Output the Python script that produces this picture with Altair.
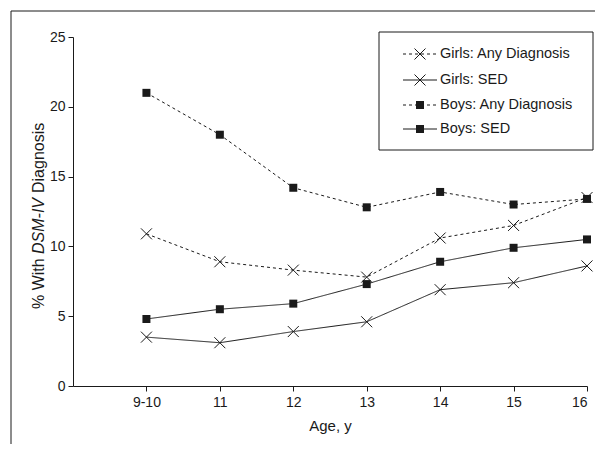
import altair as alt
import pandas as pd

ages = ["9-10", "11", "12", "13", "14", "15", "16"]
series_names = ["Girls: Any Diagnosis", "Girls: SED", "Boys: Any Diagnosis", "Boys: SED"]
girls_any = [10.9, 8.9, 8.3, 7.8, 10.6, 11.5, 13.5]
girls_sed = [3.5, 3.1, 3.9, 4.6, 6.9, 7.4, 8.6]
boys_any = [21.0, 18.0, 14.2, 12.8, 13.9, 13.0, 13.4]
boys_sed = [4.8, 5.5, 5.9, 7.3, 8.9, 9.9, 10.5]

FONT = "Liberation Sans"
INK = "#1a1a1a"
XPATH = "M-1,-1L1,1M-1,1L1,-1"

rows = []
for name, vals in zip(series_names, [girls_any, girls_sed, boys_any, boys_sed]):
    for i, (a, v) in enumerate(zip(ages, vals)):
        rows.append({"series": name, "idx": i + 1, "age": a, "value": v})
df = pd.DataFrame(rows)

label_expr = "[''," + ",".join("'%s'" % a for a in ages) + "][datum.value]"

x_enc = alt.X("idx:Q", scale=alt.Scale(domain=[0, 7], nice=False, zero=False),
              axis=alt.Axis(values=list(range(1, 8)), labelExpr=label_expr, title="Age, y",
                            titleFontWeight="normal", titleFontSize=15, titleFont=FONT,
                            titlePadding=9, titleColor=INK,
                            labelFontSize=14, labelFont=FONT, labelColor=INK,
                            tickSize=5, labelPadding=4, grid=False,
                            domainColor=INK, tickColor=INK))
y_enc = alt.Y("value:Q", scale=alt.Scale(domain=[0, 25], nice=False),
              axis=alt.Axis(values=[0, 5, 10, 15, 20, 25], title=None,
                            labelFontSize=14, labelFont=FONT, labelColor=INK,
                            tickSize=5, labelPadding=3, grid=False,
                            domainColor=INK, tickColor=INK))

dash_scale = alt.Scale(domain=series_names, range=[[3, 3], [1, 0], [3, 3], [1, 0]])

lines = alt.Chart(df).mark_line(color=INK, strokeWidth=1).encode(
    x=x_enc, y=y_enc,
    strokeDash=alt.StrokeDash("series:N", scale=dash_scale, legend=None),
    detail="series:N", order="idx:Q")

squares = alt.Chart(df).transform_filter(
    alt.FieldOneOfPredicate(field="series", oneOf=series_names[2:])
).mark_point(shape="square", filled=True, size=64, color=INK, opacity=1).encode(x="idx:Q", y="value:Q")

crosses = alt.Chart(df).transform_filter(
    alt.FieldOneOfPredicate(field="series", oneOf=series_names[:2])
).mark_point(shape=XPATH, filled=False, size=121, color=INK, strokeWidth=1, opacity=1).encode(
    x="idx:Q", y="value:Q")

one = pd.DataFrame({"k": [0]})

frame_top = alt.Chart(one).mark_rule(color=INK, strokeWidth=1).encode(
    x=alt.value(-62), x2=alt.value(530), y=alt.value(-26))
frame_left = alt.Chart(one).mark_rule(color=INK, strokeWidth=1).encode(
    x=alt.value(-62), y=alt.value(-26), y2=alt.value(420))

legend_box = alt.Chart(one).mark_rect(fill="white", stroke=INK, strokeWidth=1).encode(
    x=alt.value(306), x2=alt.value(520), y=alt.value(-5), y2=alt.value(113))

legend_layers = [legend_box]
leg_y = [17, 43, 68, 92]
for i, name in enumerate(series_names):
    dashed = "Any" in name
    rule = alt.Chart(one).mark_rule(color=INK, strokeWidth=1,
                                    strokeDash=[3, 3] if dashed else [1, 0]).encode(
        x=alt.value(330), x2=alt.value(364), y=alt.value(leg_y[i]))
    if name.startswith("Girls"):
        sym = alt.Chart(one).mark_point(shape=XPATH, filled=False, size=121, color=INK,
                                        strokeWidth=1, opacity=1).encode(
            x=alt.value(347), y=alt.value(leg_y[i]))
    else:
        sym = alt.Chart(one).mark_point(shape="square", filled=True, size=64, color=INK,
                                        opacity=1).encode(
            x=alt.value(347), y=alt.value(leg_y[i]))
    txt = alt.Chart(one).mark_text(align="left", baseline="middle", fontSize=14.5, font=FONT,
                                   color=INK, text=name).encode(
        x=alt.value(367), y=alt.value(leg_y[i]))
    legend_layers += [rule, sym, txt]

title_parts = [("% With ", "normal", 272), ("DSM-IV", "italic", 217), ("Diagnosis", "normal", 156)]
title_layers = []
for t, style, yy in title_parts:
    title_layers.append(alt.Chart(one).mark_text(
        align="left", baseline="middle", angle=270, fontSize=16, font=FONT,
        fontStyle=style, color=INK, text=t).encode(x=alt.value(-34), y=alt.value(yy)))

chart = alt.layer(
    frame_top, frame_left, lines, squares, crosses, *legend_layers, *title_layers
).properties(
    width=514, height=349,
    autosize=alt.AutoSizeParams(type="none"),
    padding={"left": 65, "top": 29, "right": 8, "bottom": 58},
).configure_view(stroke=None)

chart.save("out.html", embed_options={"renderer": "svg", "actions": False})
